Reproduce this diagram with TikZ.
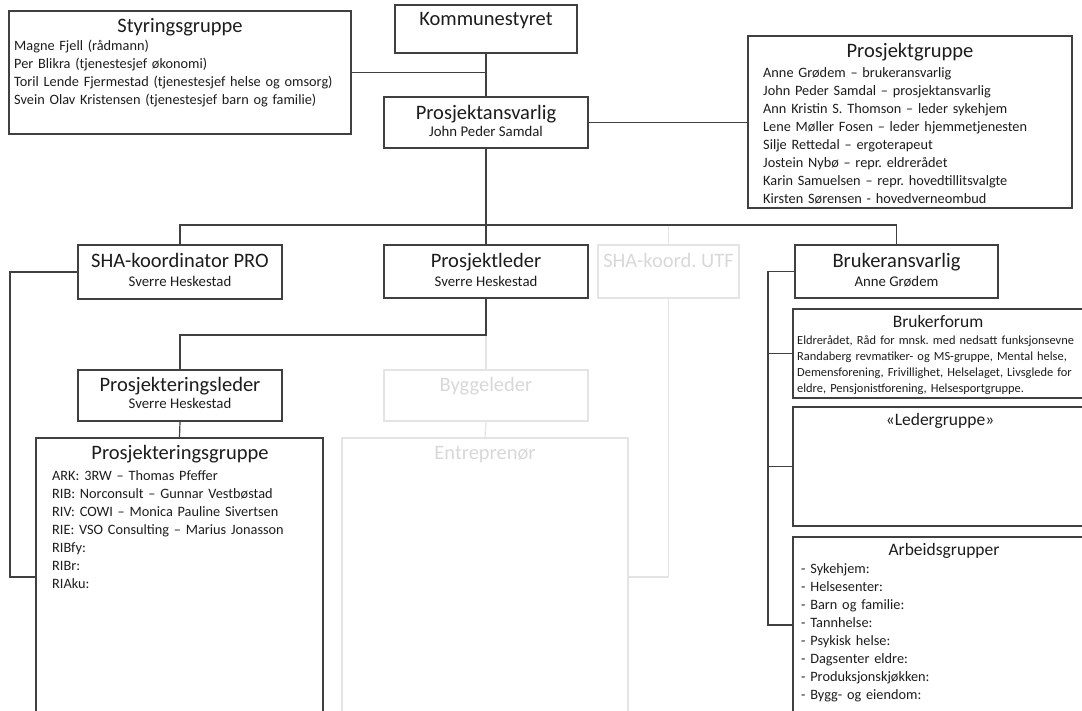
\documentclass[tikz,border=0pt]{standalone}
\usepackage{fontspec}
\setmainfont{Carlito}
\frenchspacing
\definecolor{orgline}{RGB}{64,64,64}
\definecolor{orgtext}{RGB}{28,28,28}
\definecolor{ghostline}{RGB}{228,228,228}
\definecolor{ghosttext}{RGB}{216,216,216}
\begin{document}
\begin{tikzpicture}[x=1pt,y=1pt,yscale=-1,
    orgbox/.style={draw=orgline, line width=1.3pt, inner sep=0pt},
    ghostbox/.style={draw=ghostline, line width=1.3pt, inner sep=0pt},
    link/.style={draw=orgline, line width=1.2pt},
    ghostlink/.style={draw=ghostline, line width=1.2pt},
    headtxt/.style={font=\fontsize{20.5}{24}\selectfont, text=orgtext, inner sep=0pt, text height=14pt, text depth=4pt},
    sidehead/.style={headtxt, font=\fontsize{17.5}{21}\selectfont, text height=12pt, text depth=3.5pt},
    ghosthead/.style={headtxt, text=ghosttext},
    nametxt/.style={font=\fontsize{14.8}{17}\selectfont, text=orgtext, inner sep=0pt, text height=10pt, text depth=3pt},
    listtxt/.style={font=\fontsize{14.3}{18}\selectfont, text=orgtext, inner sep=0pt, text width=330pt, align=left, anchor=base west},
    smalltxt/.style={listtxt, font=\fontsize{12.4}{16.3}\selectfont}
  ]
  \useasboundingbox (0,0) rectangle (1082,710);
  \clip (0,0) rectangle (1082,710);

  %Shape: Rectangle -- top level
  \node[orgbox, minimum width=342pt, minimum height=123pt] (styr) at (180,72.5) {};
  \node[orgbox, minimum width=182pt, minimum height=48pt] (kom) at (486,29) {};
  \node[orgbox, minimum width=204pt, minimum height=51pt] (pansv) at (486,122.5) {};
  \node[orgbox, minimum width=324pt, minimum height=172pt] (pgrp) at (910,122) {};

  %Shape: Rectangle -- second row
  \node[orgbox, minimum width=204pt, minimum height=54pt] (shapro) at (180,272) {};
  \node[orgbox, minimum width=204pt, minimum height=53pt] (pleder) at (486,271.5) {};
  \node[ghostbox, minimum width=141pt, minimum height=53pt] (shautf) at (668.5,271.5) {};
  \node[orgbox, minimum width=203pt, minimum height=53pt] (bansv) at (896.5,271.5) {};

  %Shape: Rectangle -- third row
  \node[orgbox, minimum width=204pt, minimum height=51pt] (prleder) at (180,395.5) {};
  \node[ghostbox, minimum width=204pt, minimum height=51pt] (byggl) at (486,395.5) {};
  \node[orgbox, minimum width=287pt, minimum height=322pt] (prgrp) at (179.5,599) {};
  \node[ghostbox, minimum width=286pt, minimum height=322pt] (entr) at (485,599) {};

  %Shape: Rectangle -- user side
  \node[orgbox, minimum width=295pt, minimum height=89pt] (bforum) at (940.5,353.5) {};
  \node[orgbox, minimum width=295pt, minimum height=119pt] (lgrp) at (940.5,466.5) {};
  \node[orgbox, minimum width=295pt, minimum height=223pt] (agrp) at (940.5,648.5) {};

  %Straight Lines
  \coordinate (bus) at (486,225);
  \coordinate (pljoint) at (486,335);
  \coordinate (lspine) at (10,577);
  \coordinate (rspine) at (768,625);
  \draw[ghostlink] (shautf.north) -- (shautf.north |- bus);
  \draw[ghostlink] (pljoint) -- (byggl.north);
  \draw[ghostlink] (byggl.south) -- (entr.north);
  \draw[ghostlink] (shautf.south) |- (lspine -| entr.east);
  \draw[link] (kom.south) -- (pansv.north);
  \draw[link] (styr.east) -- (styr.east -| kom.south);
  \draw[link] (pansv.east) -- (pansv.east -| pgrp.west);
  \draw[link] (pansv.south) -- (pleder.north);
  \draw[link] (shapro.north) |- (bus) -| (bansv.north);
  \draw[link] (shapro.west) -| (lspine) -- (lspine -| prgrp.west);
  \draw[link] (pleder.south) -- (pljoint) -| (prleder.north);
  \draw[link] (prleder.south) -- (prgrp.north);
  \draw[link] (bansv.west) -| (rspine) -- (rspine -| agrp.west);
  \draw[link] (bforum.west) -- (bforum.west -| rspine);
  \draw[link] (lgrp.west) -- (lgrp.west -| rspine);

  % Text Node
  \node[headtxt] (styrT) at (180,27) {Styringsgruppe};
  \node[listtxt] (styrL) at (14,50.5) {Magne Fjell (rådmann)\\Per Blikra (tjenestesjef økonomi)\\Toril Lende Fjermestad (tjenestesjef helse og omsorg)\\Svein Olav Kristensen (tjenestesjef barn og familie)};
  % Text Node
  \node[headtxt] (komT) at (486,20) {Kommunestyret};
  % Text Node
  \node[headtxt] (pansvT) at (486,114) {Prosjektansvarlig};
  \node[nametxt] (pansvN) at (486,133) {John Peder Samdal};
  % Text Node
  \node[headtxt] (pgrpT) at (910,52) {Prosjektgruppe};
  \node[listtxt] (pgrpL) at (763,77.5) {Anne Grødem – brukeransvarlig\\John Peder Samdal – prosjektansvarlig\\Ann Kristin S. Thomson – leder sykehjem\\Lene Møller Fosen – leder hjemmetjenesten\\Silje Rettedal – ergoterapeut\\Jostein Nybø – repr. eldrerådet\\Karin Samuelsen – repr. hovedtillitsvalgte\\Kirsten Sørensen - hovedverneombud};
  % Text Node
  \node[headtxt] (shaproT) at (180,262) {SHA-koordinator PRO};
  \node[nametxt] (shaproN) at (180,283) {Sverre Heskestad};
  \node[headtxt] (pledT) at (486,262) {Prosjektleder};
  \node[nametxt] (pledN) at (486,283) {Sverre Heskestad};
  \node[ghosthead] (shautfT) at (668.5,262) {SHA-koord. UTF};
  \node[headtxt] (bansvT) at (896.5,262) {Brukeransvarlig};
  \node[nametxt] (bansvN) at (896.5,283) {Anne Grødem};
  % Text Node
  \node[headtxt] (prledT) at (180,386) {Prosjekteringsleder};
  \node[nametxt] (prledN) at (180,405) {Sverre Heskestad};
  \node[ghosthead] (bygglT) at (486,386) {Byggeleder};
  % Text Node
  \node[headtxt] (prgrpT) at (180,454) {Prosjekteringsgruppe};
  \node[listtxt] (prgrpL) at (52,480.5) {ARK: 3RW – Thomas Pfeffer\\RIB: Norconsult – Gunnar Vestbøstad\\RIV: COWI – Monica Pauline Sivertsen\\RIE: VSO Consulting – Marius Jonasson\\RIBfy:\\RIBr:\\RIAku:};
  \node[ghosthead] (entrT) at (485,454) {Entreprenør};
  % Text Node
  \node[sidehead] (bforumT) at (938,323) {Brukerforum};
  \node[smalltxt] (bforumL) at (797,344) {Eldrerådet, Råd for mnsk. med nedsatt funksjonsevne\\Randaberg revmatiker- og MS-gruppe, Mental helse,\\Demensforening, Frivillighet, Helselaget, Livsglede for\\eldre, Pensjonistforening, Helsesportgruppe.};
  \node[sidehead] (lgrpT) at (940,421) {«Ledergruppe»};
  \node[sidehead] (agrpT) at (944,551) {Arbeidsgrupper};
  \node[listtxt] (agrpL) at (801,573.5) {- Sykehjem:\\- Helsesenter:\\- Barn og familie:\\- Tannhelse:\\- Psykisk helse:\\- Dagsenter eldre:\\- Produksjonskjøkken:\\- Bygg- og eiendom:};
\end{tikzpicture}
\end{document}
